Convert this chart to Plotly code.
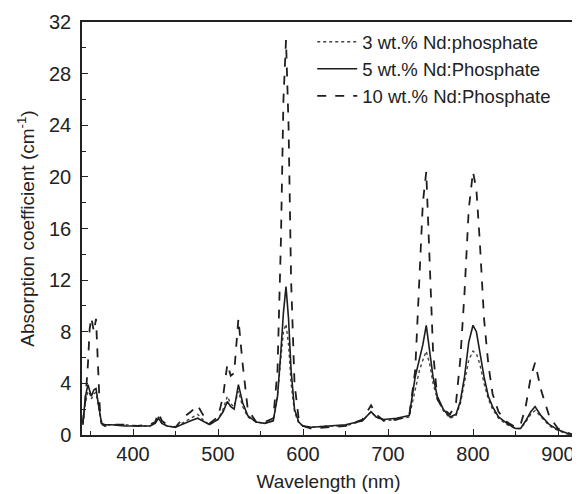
import plotly.graph_objects as go

wavelength = [341, 344, 347, 349, 351, 354, 356.5, 359, 361, 363, 367, 375, 390, 405, 420,
              426, 430, 434, 440, 450, 460, 468, 476, 482, 490, 500, 506, 511, 515, 519,
              524, 529, 535, 545, 555, 565, 570, 574, 577, 580, 583, 586, 590, 595, 600,
              610, 630, 650, 670, 680, 686, 695, 710, 725, 732, 737, 741, 745, 749, 753,
              758, 765, 773, 780, 785, 790, 795, 800, 804, 808, 813, 818, 823, 830, 840,
              850, 856, 862, 868, 873, 880, 890, 900, 910, 918]

nd3 = [0.8, 2.5, 3.4, 3.2, 2.8, 3.2, 3.3, 2.3, 1.3, 0.8, 0.7, 0.8, 0.8, 0.7, 0.7,
       0.9, 1.4, 0.9, 0.7, 0.6, 1.0, 1.3, 1.6, 1.2, 0.8, 1.2, 2.0, 3.0, 2.4, 2.2,
       3.4, 2.2, 1.4, 1.0, 0.9, 1.1, 3.0, 6.0, 8.0, 8.6, 7.0, 4.0, 1.8, 0.9, 0.7,
       0.6, 0.7, 0.7, 1.1, 1.8, 1.4, 1.1, 1.2, 1.4, 3.5, 5.0, 5.8, 6.5, 5.5, 4.0,
       2.8, 1.9, 1.3, 1.5, 2.4, 4.0, 5.8, 6.5, 6.3, 5.5, 4.0, 2.8, 2.0, 1.3, 0.8,
       0.5, 0.5, 1.0, 1.6, 1.9, 1.4, 0.7, 0.35, 0.1, 0.0]

nd5 = [0.8, 3.0, 3.9, 3.5, 3.0, 3.5, 3.6, 2.5, 1.5, 0.9, 0.8, 0.8, 0.7, 0.7, 0.7,
       0.9, 1.3, 0.9, 0.7, 0.6, 0.9, 1.1, 1.3, 1.1, 0.8, 1.2, 1.8, 2.6, 2.2, 2.0,
       3.9, 2.5, 1.5, 1.0, 0.9, 1.1, 3.0, 6.5, 9.5, 11.5, 9.0, 5.0, 2.0, 1.0, 0.7,
       0.6, 0.7, 0.8, 1.1, 1.8, 1.4, 1.2, 1.3, 1.5, 4.5, 6.0, 7.0, 8.5, 6.5, 4.5,
       3.0, 2.0, 1.4, 1.6, 2.6, 4.5, 7.2, 8.5, 8.0, 6.5, 4.5, 3.0, 2.2, 1.4, 0.9,
       0.5, 0.5, 1.1, 1.8, 2.2, 1.5, 0.8, 0.4, 0.15, 0.0]

nd10 = [1.0, 2.7, 5.5, 8.2, 9.1, 8.0, 9.0, 5.2, 2.0, 0.9, 0.7, 0.8, 0.8, 0.7, 0.8,
        1.0, 1.7, 1.1, 0.8, 0.6, 1.4, 1.8, 2.3, 1.6, 0.9, 1.4, 3.0, 5.5, 4.6, 4.8,
        9.0, 5.5, 2.0, 1.0, 1.0, 1.3, 5.0, 15.0, 26.0, 30.6, 24.0, 12.0, 4.0, 1.2, 0.7,
        0.5, 0.6, 0.7, 1.2, 2.3, 1.6, 1.1, 1.2, 1.5, 5.0, 12.0, 18.0, 20.4, 14.0, 6.5,
        2.8, 2.0, 1.6, 2.5, 5.8, 11.0, 17.5, 20.4, 19.0, 15.0, 9.0, 5.5, 3.2, 1.8, 1.0,
        0.6, 0.8, 2.2, 4.5, 5.6, 3.5, 1.4, 0.5, 0.2, 0.0]

series_names = ["3 wt.% Nd:phosphate", "5 wt.% Nd:Phosphate", "10 wt.% Nd:Phosphate"]
x_ticks = [400, 500, 600, 700, 800, 900]
y_ticks = [0, 4, 8, 12, 16, 20, 24, 28, 32]

col = "#1e1e1e"
fig = go.Figure()
fig.add_trace(go.Scatter(x=wavelength, y=nd3, mode="lines", name=series_names[0],
                         line=dict(color="#444444", width=1.4, dash="dot")))
fig.add_trace(go.Scatter(x=wavelength, y=nd5, mode="lines", name=series_names[1],
                         line=dict(color=col, width=1.6, dash="solid")))
fig.add_trace(go.Scatter(x=wavelength, y=nd10, mode="lines", name=series_names[2],
                         line=dict(color=col, width=1.8, dash="dash")))

font_family = "Liberation Sans, Arial, sans-serif"
fig.update_layout(
    width=572, height=486,
    margin=dict(l=74, r=5, t=14, b=59),
    paper_bgcolor="white", plot_bgcolor="white",
    font=dict(family=font_family, color="#222222", size=19),
    showlegend=True,
    legend=dict(x=0.467, y=0.997, xanchor="left", yanchor="top",
                bgcolor="rgba(0,0,0,0)", borderwidth=0,
                font=dict(size=18.5, family=font_family, color="#222222"),
                tracegroupgap=0, itemwidth=40),
    xaxis=dict(range=[340, 920], tickvals=x_ticks, ticks="inside", ticklen=6,
               tickcolor="#222222", showline=True, linecolor="#222222", linewidth=1.5,
               mirror=True, showgrid=False, zeroline=False, automargin=False,
               minor=dict(dtick=50, tick0=350, ticks="inside", ticklen=4, tickcolor="#222222"),
               title=dict(text="Wavelength (nm)", font=dict(size=19), standoff=11),
               tickfont=dict(size=20)),
    yaxis=dict(range=[0, 32], tickvals=y_ticks, ticks="inside", ticklen=6,
               tickcolor="#222222", showline=True, linecolor="#222222", linewidth=1.5,
               mirror=True, showgrid=False, zeroline=False, automargin=False,
               ticklabelstandoff=5,
               minor=dict(dtick=2, ticks="inside", ticklen=4, tickcolor="#222222"),
               title=dict(text="Absorption coefficient (cm<sup>-1</sup>)", font=dict(size=19), standoff=9),
               tickfont=dict(size=20)),
)

fig.write_html("out.html")
